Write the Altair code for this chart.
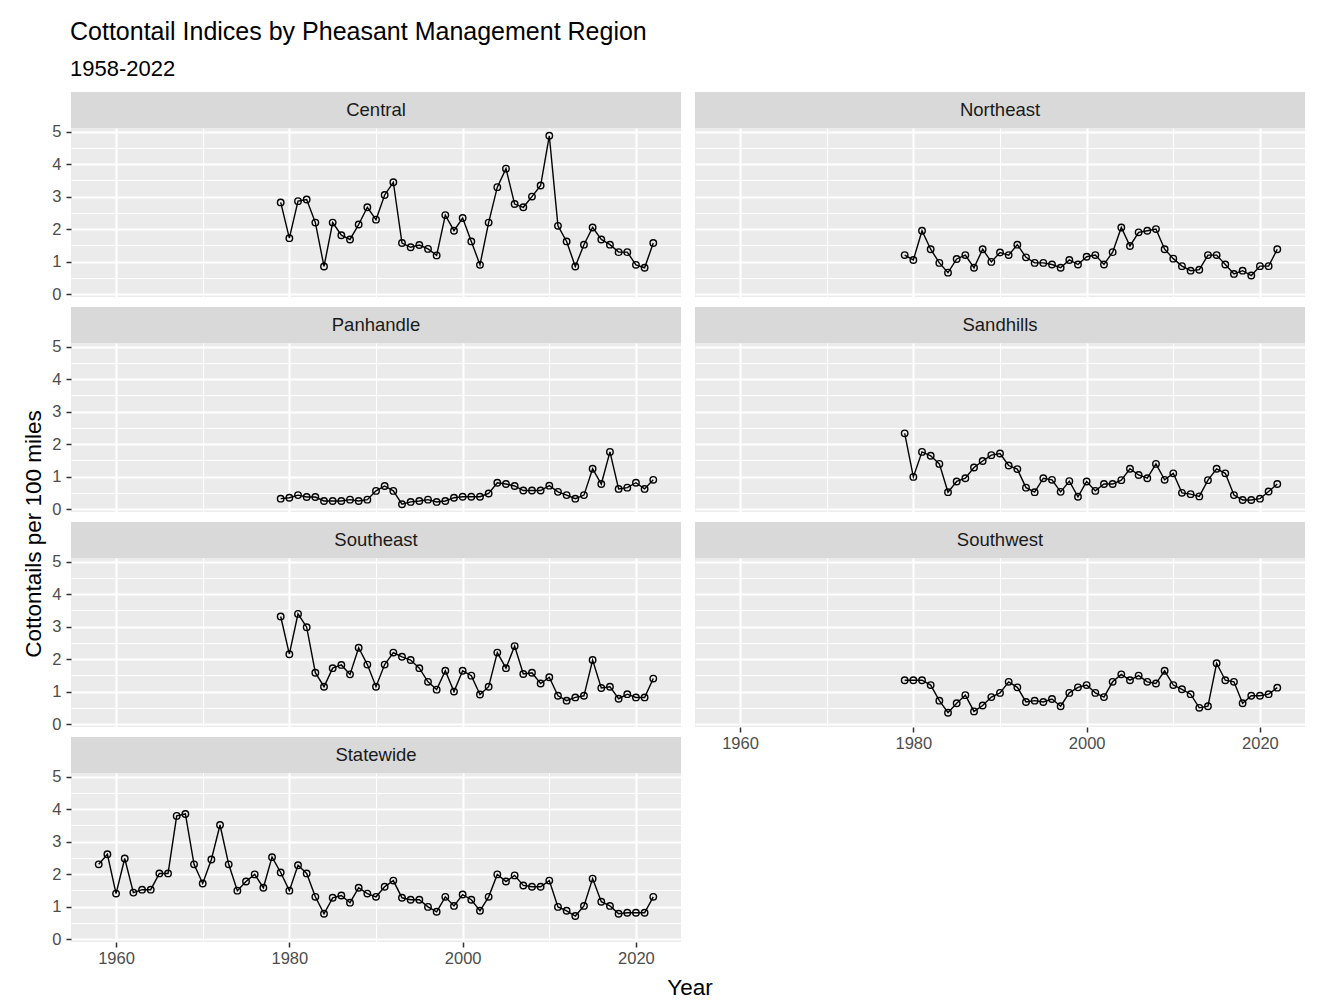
import altair as alt
import pandas as pd

# ---------------- data ----------------
years_regions = list(range(1979, 2023))
years_statewide = list(range(1958, 2023))

central = [2.82, 1.72, 2.86, 2.91, 2.20, 0.85, 2.20, 1.81, 1.68, 2.14,
           2.67, 2.29, 3.05, 3.44, 1.57, 1.44, 1.51, 1.39, 1.19, 2.43,
           1.95, 2.34, 1.62, 0.90, 2.20, 3.29, 3.86, 2.77, 2.67, 3.00,
           3.34, 4.87, 2.10, 1.62, 0.85, 1.52, 2.05, 1.68, 1.52, 1.29,
           1.29, 0.90, 0.81, 1.57]
northeast = [1.20, 1.05, 1.95, 1.38, 0.96, 0.66, 1.08, 1.20, 0.81, 1.38,
             0.99, 1.28, 1.20, 1.52, 1.13, 0.96, 0.96, 0.91, 0.81, 1.05,
             0.91, 1.15, 1.20, 0.91, 1.29, 2.05, 1.48, 1.90, 1.95, 2.00,
             1.38, 1.09, 0.86, 0.72, 0.75, 1.20, 1.20, 0.91, 0.62, 0.72,
             0.57, 0.86, 0.86, 1.38]
panhandle = [0.32, 0.35, 0.43, 0.37, 0.37, 0.25, 0.25, 0.25, 0.29, 0.25,
             0.29, 0.56, 0.71, 0.56, 0.15, 0.22, 0.25, 0.29, 0.22, 0.25,
             0.35, 0.38, 0.38, 0.38, 0.48, 0.81, 0.77, 0.71, 0.57, 0.57,
             0.57, 0.72, 0.53, 0.43, 0.32, 0.43, 1.24, 0.77, 1.76, 0.62,
             0.66, 0.81, 0.62, 0.90]
sandhills = [2.33, 0.99, 1.76, 1.64, 1.39, 0.52, 0.85, 0.95, 1.28, 1.48,
             1.66, 1.71, 1.34, 1.23, 0.66, 0.52, 0.95, 0.90, 0.53, 0.86,
             0.38, 0.85, 0.56, 0.77, 0.77, 0.89, 1.24, 1.05, 0.95, 1.39,
             0.90, 1.10, 0.50, 0.46, 0.39, 0.89, 1.24, 1.10, 0.43, 0.28,
             0.28, 0.32, 0.54, 0.77]
southeast = [3.31, 2.15, 3.39, 2.98, 1.58, 1.15, 1.72, 1.82, 1.53, 2.35,
             1.83, 1.15, 1.83, 2.20, 2.07, 1.97, 1.72, 1.30, 1.06, 1.64,
             1.00, 1.64, 1.49, 0.91, 1.15, 2.20, 1.72, 2.40, 1.54, 1.58,
             1.25, 1.44, 0.87, 0.72, 0.82, 0.87, 1.97, 1.11, 1.15, 0.78,
             0.92, 0.82, 0.82, 1.40]
southwest = [1.35, 1.35, 1.35, 1.20, 0.72, 0.35, 0.64, 0.89, 0.39, 0.57,
             0.83, 0.96, 1.30, 1.13, 0.68, 0.72, 0.68, 0.77, 0.55, 0.96,
             1.13, 1.20, 0.96, 0.83, 1.30, 1.53, 1.35, 1.49, 1.30, 1.25,
             1.64, 1.20, 1.07, 0.92, 0.50, 0.55, 1.87, 1.35, 1.30, 0.64,
             0.87, 0.87, 0.92, 1.12]
statewide = [2.30, 2.61, 1.40, 2.48, 1.43, 1.52, 1.52, 2.02, 2.02, 3.79,
             3.85, 2.30, 1.71, 2.45, 3.51, 2.30, 1.49, 1.77, 1.99, 1.58,
             2.52, 2.05, 1.49, 2.27, 2.02, 1.30, 0.78, 1.27, 1.34, 1.12,
             1.58, 1.40, 1.30, 1.61, 1.80, 1.27, 1.21, 1.21, 0.99, 0.84,
             1.30, 1.02, 1.37, 1.21, 0.87, 1.30, 1.99, 1.77, 1.96, 1.65,
             1.61, 1.61, 1.80, 0.99, 0.87, 0.71, 1.02, 1.86, 1.15, 1.02,
             0.78, 0.81, 0.81, 0.81, 1.30]

series = {
    "Central": (years_regions, central),
    "Northeast": (years_regions, northeast),
    "Panhandle": (years_regions, panhandle),
    "Sandhills": (years_regions, sandhills),
    "Southeast": (years_regions, southeast),
    "Southwest": (years_regions, southwest),
    "Statewide": (years_statewide, statewide),
}

title_text = "Cottontail Indices by Pheasant Management Region"
subtitle_text = "1958-2022"
x_title = "Year"
y_title = "Cottontails per 100 miles"

x_ticks = [1960, 1970, 1980, 1990, 2000, 2010, 2020]
y_ticks = [0, 0.5, 1, 1.5, 2, 2.5, 3, 3.5, 4, 4.5, 5]

rows = []
for name, (yrs, vals) in series.items():
    assert len(yrs) == len(vals), name
    for yr, v in zip(yrs, vals):
        rows.append({"region": name, "year": yr, "value": v})
df = pd.DataFrame(rows)

# ---------------- style ----------------
FONT = "Liberation Sans"
W, H, S = 610, 169, 36
X_DOMAIN = [1954.8, 2025.2]
Y_DOMAIN = [-0.09, 5.11]
GRID_MAJOR, GRID_MINOR = 2.0, 1.0
LABEL_SIZE = 16.5
STRIP_SIZE = 18.5
AXIS_TITLE_SIZE = 22.5


def x_axis(show):
    ax = dict(values=x_ticks, format="d", grid=True, gridColor="white",
              gridWidth={"condition": {"test": "datum.value % 20 === 0", "value": GRID_MAJOR},
                         "value": GRID_MINOR},
              domain=False, title=None, labelOverlap=False, labelFlush=False)
    if show:
        ax.update(labelExpr="datum.value % 20 === 0 ? datum.label : ''",
                  labelFontSize=LABEL_SIZE, labelColor="#4D4D4D", labelFont=FONT,
                  labelPadding=3, tickSize=5, tickColor="#333333", tickWidth=1.5,
                  tickOpacity={"condition": {"test": "datum.value % 20 === 0", "value": 1},
                               "value": 0})
    else:
        ax.update(labels=False, ticks=False)
    return alt.Axis(**ax)


def y_axis(show):
    ax = dict(values=y_ticks, format="~g", grid=True, gridColor="white",
              gridWidth={"condition": {"test": "datum.value % 1 === 0", "value": GRID_MAJOR},
                         "value": GRID_MINOR},
              domain=False, title=None, labelOverlap=False, labelFlush=False)
    if show:
        ax.update(labelExpr="datum.value % 1 === 0 ? datum.label : ''",
                  labelFontSize=LABEL_SIZE, labelColor="#4D4D4D", labelFont=FONT,
                  labelPadding=5, tickSize=5, tickColor="#333333", tickWidth=1.5,
                  tickOpacity={"condition": {"test": "datum.value % 1 === 0", "value": 1},
                               "value": 0})
    else:
        ax.update(labels=False, ticks=False)
    return alt.Axis(**ax)


def panel(name, show_x, show_y):
    d = df[df["region"] == name]
    base = alt.Chart(d)
    x = alt.X("year:Q", scale=alt.Scale(domain=X_DOMAIN, nice=False, zero=False),
              axis=x_axis(show_x))
    y = alt.Y("value:Q", scale=alt.Scale(domain=Y_DOMAIN, nice=False, zero=False),
              axis=y_axis(show_y))
    line = base.mark_line(color="black", strokeWidth=1.4).encode(x=x, y=y)
    pts = base.mark_point(shape="circle", filled=False, color="black", size=42,
                          strokeWidth=1.4, opacity=1).encode(x=x, y=y)
    sdf = pd.DataFrame({"region": [name]})
    strip = alt.Chart(sdf).mark_rect(color="#D9D9D9").encode(
        x=alt.value(0), x2=alt.value(W), y=alt.value(-S), y2=alt.value(0))
    lab = alt.Chart(sdf).mark_text(font=FONT, fontSize=STRIP_SIZE, color="#1A1A1A",
                                   baseline="middle", align="center").encode(
        x=alt.value(W / 2), y=alt.value(-S / 2), text="region:N")
    return alt.layer(line, pts, strip, lab).properties(width=W, height=H)


left = alt.vconcat(
    panel("Central", False, True),
    panel("Panhandle", False, True),
    panel("Southeast", False, True),
    panel("Statewide", True, True),
    spacing=4,
)
right = alt.vconcat(
    panel("Northeast", False, False),
    panel("Sandhills", False, False),
    panel("Southwest", True, False),
    spacing=10,
)
grid = alt.hconcat(left, right, spacing=14)

white_view = alt.ViewBackground(fill="white", stroke=None)

ytitle = alt.Chart(pd.DataFrame({"t": [y_title]})).mark_text(
    font=FONT, fontSize=AXIS_TITLE_SIZE, color="black", angle=270,
    baseline="middle", align="center"
).encode(x=alt.value(21), y=alt.value(406), text="t:N").properties(
    width=30, height=860, view=white_view)

xtitle = alt.Chart(pd.DataFrame({"t": [x_title]})).mark_text(
    font=FONT, fontSize=AXIS_TITLE_SIZE, color="black", baseline="middle", align="center"
).encode(x=alt.value(619), y=alt.value(10), text="t:N").properties(
    width=1240, height=20, view=white_view)

chart = alt.hconcat(
    ytitle,
    alt.vconcat(grid, xtitle, spacing=10),
    spacing=5,
).properties(
    title=alt.TitleParams(
        text=title_text, subtitle=subtitle_text, anchor="start", dx=57,
        font=FONT, subtitleFont=FONT, fontSize=25, subtitleFontSize=22,
        fontWeight="normal", color="black", subtitleColor="black",
        subtitlePadding=14, offset=12,
    ),
    padding={"left": 5, "top": 12, "right": 0, "bottom": 0},
).configure(font=FONT, background="white").configure_view(fill="#EBEBEB", stroke=None)

chart.save("out.html", embed_options={"renderer": "svg", "actions": False})
